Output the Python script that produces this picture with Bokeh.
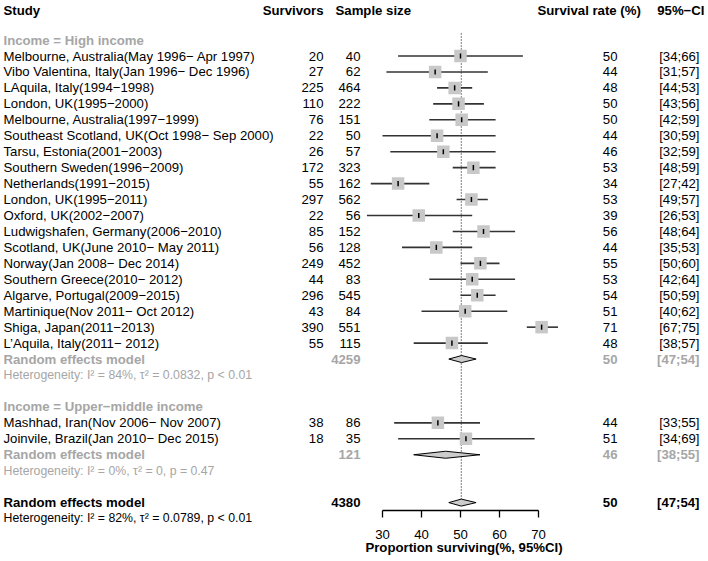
from bokeh.plotting import figure
from bokeh.layouts import row, column
from bokeh.models import Range1d, FixedTicker, ColumnDataSource, Title
from bokeh.core.properties import value
from bokeh.embed import file_html
from bokeh.resources import INLINE

# ---------------- data ----------------
hi_studies = [
    "Melbourne, Australia(May 1996\u2212 Apr 1997)",
    "Vibo Valentina, Italy(Jan 1996\u2212 Dec 1996)",
    "LAquila, Italy(1994\u22121998)",
    "London, UK(1995\u22122000)",
    "Melbourne, Australia(1997\u22121999)",
    "Southeast Scotland, UK(Oct 1998\u2212 Sep 2000)",
    "Tarsu, Estonia(2001\u22122003)",
    "Southern Sweden(1996\u22122009)",
    "Netherlands(1991\u22122015)",
    "London, UK(1995\u22122011)",
    "Oxford, UK(2002\u22122007)",
    "Ludwigshafen, Germany(2006\u22122010)",
    "Scotland, UK(June 2010\u2212 May 2011)",
    "Norway(Jan 2008\u2212 Dec 2014)",
    "Southern Greece(2010\u2212 2012)",
    "Algarve, Portugal(2009\u22122015)",
    "Martinique(Nov 2011\u2212 Oct 2012)",
    "Shiga, Japan(2011\u22122013)",
    "L\u2019Aquila, Italy(2011\u2212 2012)",
]
hi_surv = [20, 27, 225, 110, 76, 22, 26, 172, 55, 297, 22, 85, 56, 249, 44, 296, 43, 390, 55]
hi_n = [40, 62, 464, 222, 151, 50, 57, 323, 162, 562, 56, 152, 128, 452, 83, 545, 84, 551, 115]
hi_est = [50.0, 43.5, 48.5, 49.5, 50.3, 44.0, 45.6, 53.3, 34.0, 52.8, 39.3, 55.9, 43.8,
          55.1, 53.0, 54.3, 51.2, 70.8, 47.8]
hi_rate = [50, 44, 48, 50, 50, 44, 46, 53, 34, 53, 39, 56, 44, 55, 53, 54, 51, 71, 48]
hi_lo = [34, 31, 44, 43, 42, 30, 32, 48, 27, 49, 26, 48, 35, 50, 42, 50, 40, 67, 38]
hi_up = [66, 57, 53, 56, 59, 59, 59, 59, 42, 57, 53, 64, 53, 60, 64, 59, 62, 75, 57]

um_studies = ["Mashhad, Iran(Nov 2006\u2212 Nov 2007)", "Joinvile, Brazil(Jan 2010\u2212 Dec 2015)"]
um_surv = [38, 18]
um_n = [86, 35]
um_est = [44.2, 51.4]
um_rate = [44, 51]
um_lo = [33, 34]
um_up = [55, 69]

# pooled: high income, upper-middle income, overall
pool_labels = ["Random effects model", "Random effects model", "Random effects model"]
pool_n = [4259, 121, 4380]
pool_est = [50.3, 46.2, 50.2]
pool_rate = [50, 46, 50]
pool_lo = [47, 38, 47]
pool_up = [54, 55, 54]
het_texts = [
    "Heterogeneity: I\u00b2 = 84%, \u03c4\u00b2 = 0.0832, p < 0.01",
    "Heterogeneity: I\u00b2 = 0%, \u03c4\u00b2 = 0, p = 0.47",
    "Heterogeneity: I\u00b2 = 82%, \u03c4\u00b2 = 0.0789, p < 0.01",
]
group_titles = ["Income = High income", "Income = Upper\u2212middle income"]
headers = ["Study", "Survivors", "Sample size", "Survival rate (%)", "95%\u2212CI"]
axis_ticks = [30, 40, 50, 60, 70]
axis_title = "Proportion surviving(%, 95%CI)"

# ---------------- layout helpers ----------------
W, H = 708, 561
HDR = 20                  # header strip height
SPLIT1 = 327              # study/survivors | forest panel
SPLIT2 = 600              # forest panel | rate & CI panel
PX30, PXU = 382.0, 3.9    # pixel of 30% and pixels per percent
ROW0, ROWH = 55.5, 15.95  # pixel of first study row, row height
AXIS_Y = 510.0            # pixel of the axis line
BOTTOM = int(H - AXIS_Y)


def xd(px):
    return 30 + (px - PX30) / PXU


def yd(px):
    return (px - ROW0) / ROWH


FONT = "Liberation Sans"
GREY = "#A6A6A6"
FS = "13.2px"
FS_HET = "12.3px"


def base_fig(width, height, x_range, y_range, bottom=0, with_axis=False):
    f = figure(width=width, height=height, output_backend="svg", toolbar_location=None,
               x_range=x_range, y_range=y_range, y_axis_location=None,
               x_axis_location="below" if with_axis else None,
               min_border_left=0, min_border_right=0, min_border_top=0,
               min_border_bottom=bottom)
    f.outline_line_color = None
    f.grid.visible = False
    f.background_fill_color = "white"
    f.border_fill_color = "white"
    return f


body_y = (yd(AXIS_Y), yd(HDR))
header = base_fig(W, HDR, Range1d(0, W), Range1d(yd(HDR), yd(0)))
left = base_fig(SPLIT1, H - HDR, Range1d(0, SPLIT1), Range1d(*body_y), bottom=BOTTOM)
mid = base_fig(SPLIT2 - SPLIT1, H - HDR, Range1d(xd(SPLIT1), xd(SPLIT2)),
               Range1d(*body_y), bottom=BOTTOM, with_axis=True)
right = base_fig(W - SPLIT2, H - HDR, Range1d(xd(SPLIT2), xd(W)), Range1d(*body_y),
                 bottom=BOTTOM)

# row indices
hi_rows = list(range(len(hi_studies)))
hi_pool_row = len(hi_studies)
hi_het_row = hi_pool_row + 1
um_title_row = hi_het_row + 2
um_rows = [um_title_row + 1 + i for i in range(len(um_studies))]
um_pool_row = um_rows[-1] + 1
um_het_row = um_pool_row + 1
all_pool_row = um_het_row + 2
pool_rows = [hi_pool_row, um_pool_row, all_pool_row]
het_rows = [hi_het_row, um_het_row]
header_row = yd(9.5)


def add_text(f, xs, ys, texts, align="left", color="black", bold=False, size=FS):
    src = ColumnDataSource(dict(x=xs, y=ys, t=texts))
    f.text(x="x", y="y", text="t", source=src, text_align=align,
           text_baseline="middle", text_color=color,
           text_font=value(FONT), text_font_size=size,
           text_font_style="bold" if bold else "normal")


# column positions (left/header in pixels, mid/right in percent units)
X_STUDY = 3
X_SURV = 323
X_N = xd(360)
X_RATE = xd(617)
X_CI = xd(699)

# headers
add_text(header, [X_STUDY], [header_row], [headers[0]], bold=True)
add_text(header, [X_SURV], [header_row], [headers[1]], align="right", bold=True)
add_text(header, [335], [header_row], [headers[2]], bold=True)
add_text(header, [537], [header_row], [headers[3]], bold=True)
add_text(header, [704], [header_row], [headers[4]], align="right", bold=True)

# group titles
add_text(left, [X_STUDY] * 2, [hi_rows[0] - 1, um_title_row], group_titles, color=GREY, bold=True)

# studies
st_rows = hi_rows + um_rows
st_names = hi_studies + um_studies
st_surv = hi_surv + um_surv
st_n = hi_n + um_n
st_est = hi_est + um_est
st_rate = hi_rate + um_rate
st_lo = hi_lo + um_lo
st_up = hi_up + um_up

add_text(left, [X_STUDY] * len(st_rows), st_rows, st_names)
add_text(left, [X_SURV] * len(st_rows), st_rows, [str(v) for v in st_surv], align="right")
add_text(mid, [X_N] * len(st_rows), st_rows, [str(v) for v in st_n], align="right")
add_text(right, [X_RATE] * len(st_rows), st_rows, [str(v) for v in st_rate], align="right")
add_text(right, [X_CI] * len(st_rows), st_rows,
         ["[%d;%d]" % (a, b) for a, b in zip(st_lo, st_up)], align="right")

# pooled rows and subgroup heterogeneity lines
pool_colors = [GREY, GREY, "black"]
for i in range(3):
    r = pool_rows[i]
    c = pool_colors[i]
    add_text(left, [X_STUDY], [r], [pool_labels[i]], color=c, bold=True)
    add_text(mid, [X_N], [r], [str(pool_n[i])], align="right", color=c, bold=True)
    add_text(right, [X_RATE], [r], [str(pool_rate[i])], align="right", color=c, bold=True)
    add_text(right, [X_CI], [r], ["[%d;%d]" % (pool_lo[i], pool_up[i])], align="right",
             color=c, bold=True)
add_text(left, [X_STUDY] * 2, het_rows, het_texts[:2], color=GREY, size=FS_HET)

# overall heterogeneity sits below the axis line: shown as a title under the left panel
left.add_layout(Title(text=het_texts[2], align="left", offset=X_STUDY, standoff=0,
                      vertical_align="top", text_font=FONT, text_font_size=FS_HET,
                      text_font_style="normal", text_color="black"), "below")

# reference dotted line at overall estimate
mid.segment(x0=[pool_est[2]], y0=[yd(33)], x1=[pool_est[2]], y1=[all_pool_row - 0.2],
            line_color="black", line_width=1, line_dash="1 2")

# CI lines
mid.segment(x0=st_lo, y0=st_rows, x1=st_up, y1=st_rows, line_color="#333333", line_width=1.6)
# squares
mid.scatter(x=st_est, y=st_rows, marker="square", size=12.5, fill_color="#C8C8C8",
            line_color=None)
# estimate ticks
mid.segment(x0=st_est, y0=[r - 0.16 for r in st_rows], x1=st_est,
            y1=[r + 0.16 for r in st_rows], line_color="black", line_width=1.5)

# diamonds
dh = 0.22
xs = [[lo, e, up, e] for lo, e, up in zip(pool_lo, pool_est, pool_up)]
ys = [[r, r - dh, r, r + dh] for r in pool_rows]
mid.patches(xs=xs, ys=ys, fill_color="#CCCCCC", line_color="black", line_width=1)

# axis
ax = mid.xaxis[0]
ax.bounds = (axis_ticks[0], axis_ticks[-1])
ax.ticker = FixedTicker(ticks=axis_ticks)
ax.minor_tick_line_color = None
ax.major_tick_in = 0
ax.major_tick_out = 7
ax.axis_line_color = "black"
ax.axis_line_width = 1.3
ax.major_tick_line_color = "black"
ax.major_tick_line_width = 1.3
ax.major_label_text_font = FONT
ax.major_label_text_font_size = "13.2px"
ax.major_label_text_color = "black"
ax.major_label_standoff = 12
ax.axis_label = axis_title
ax.axis_label_text_font = FONT
ax.axis_label_text_font_size = "13.2px"
ax.axis_label_text_font_style = "bold"
ax.axis_label_text_color = "black"
ax.axis_label_standoff = -2

layout = column(header, row(left, mid, right))
open("out.html", "w").write(file_html(layout, INLINE))
